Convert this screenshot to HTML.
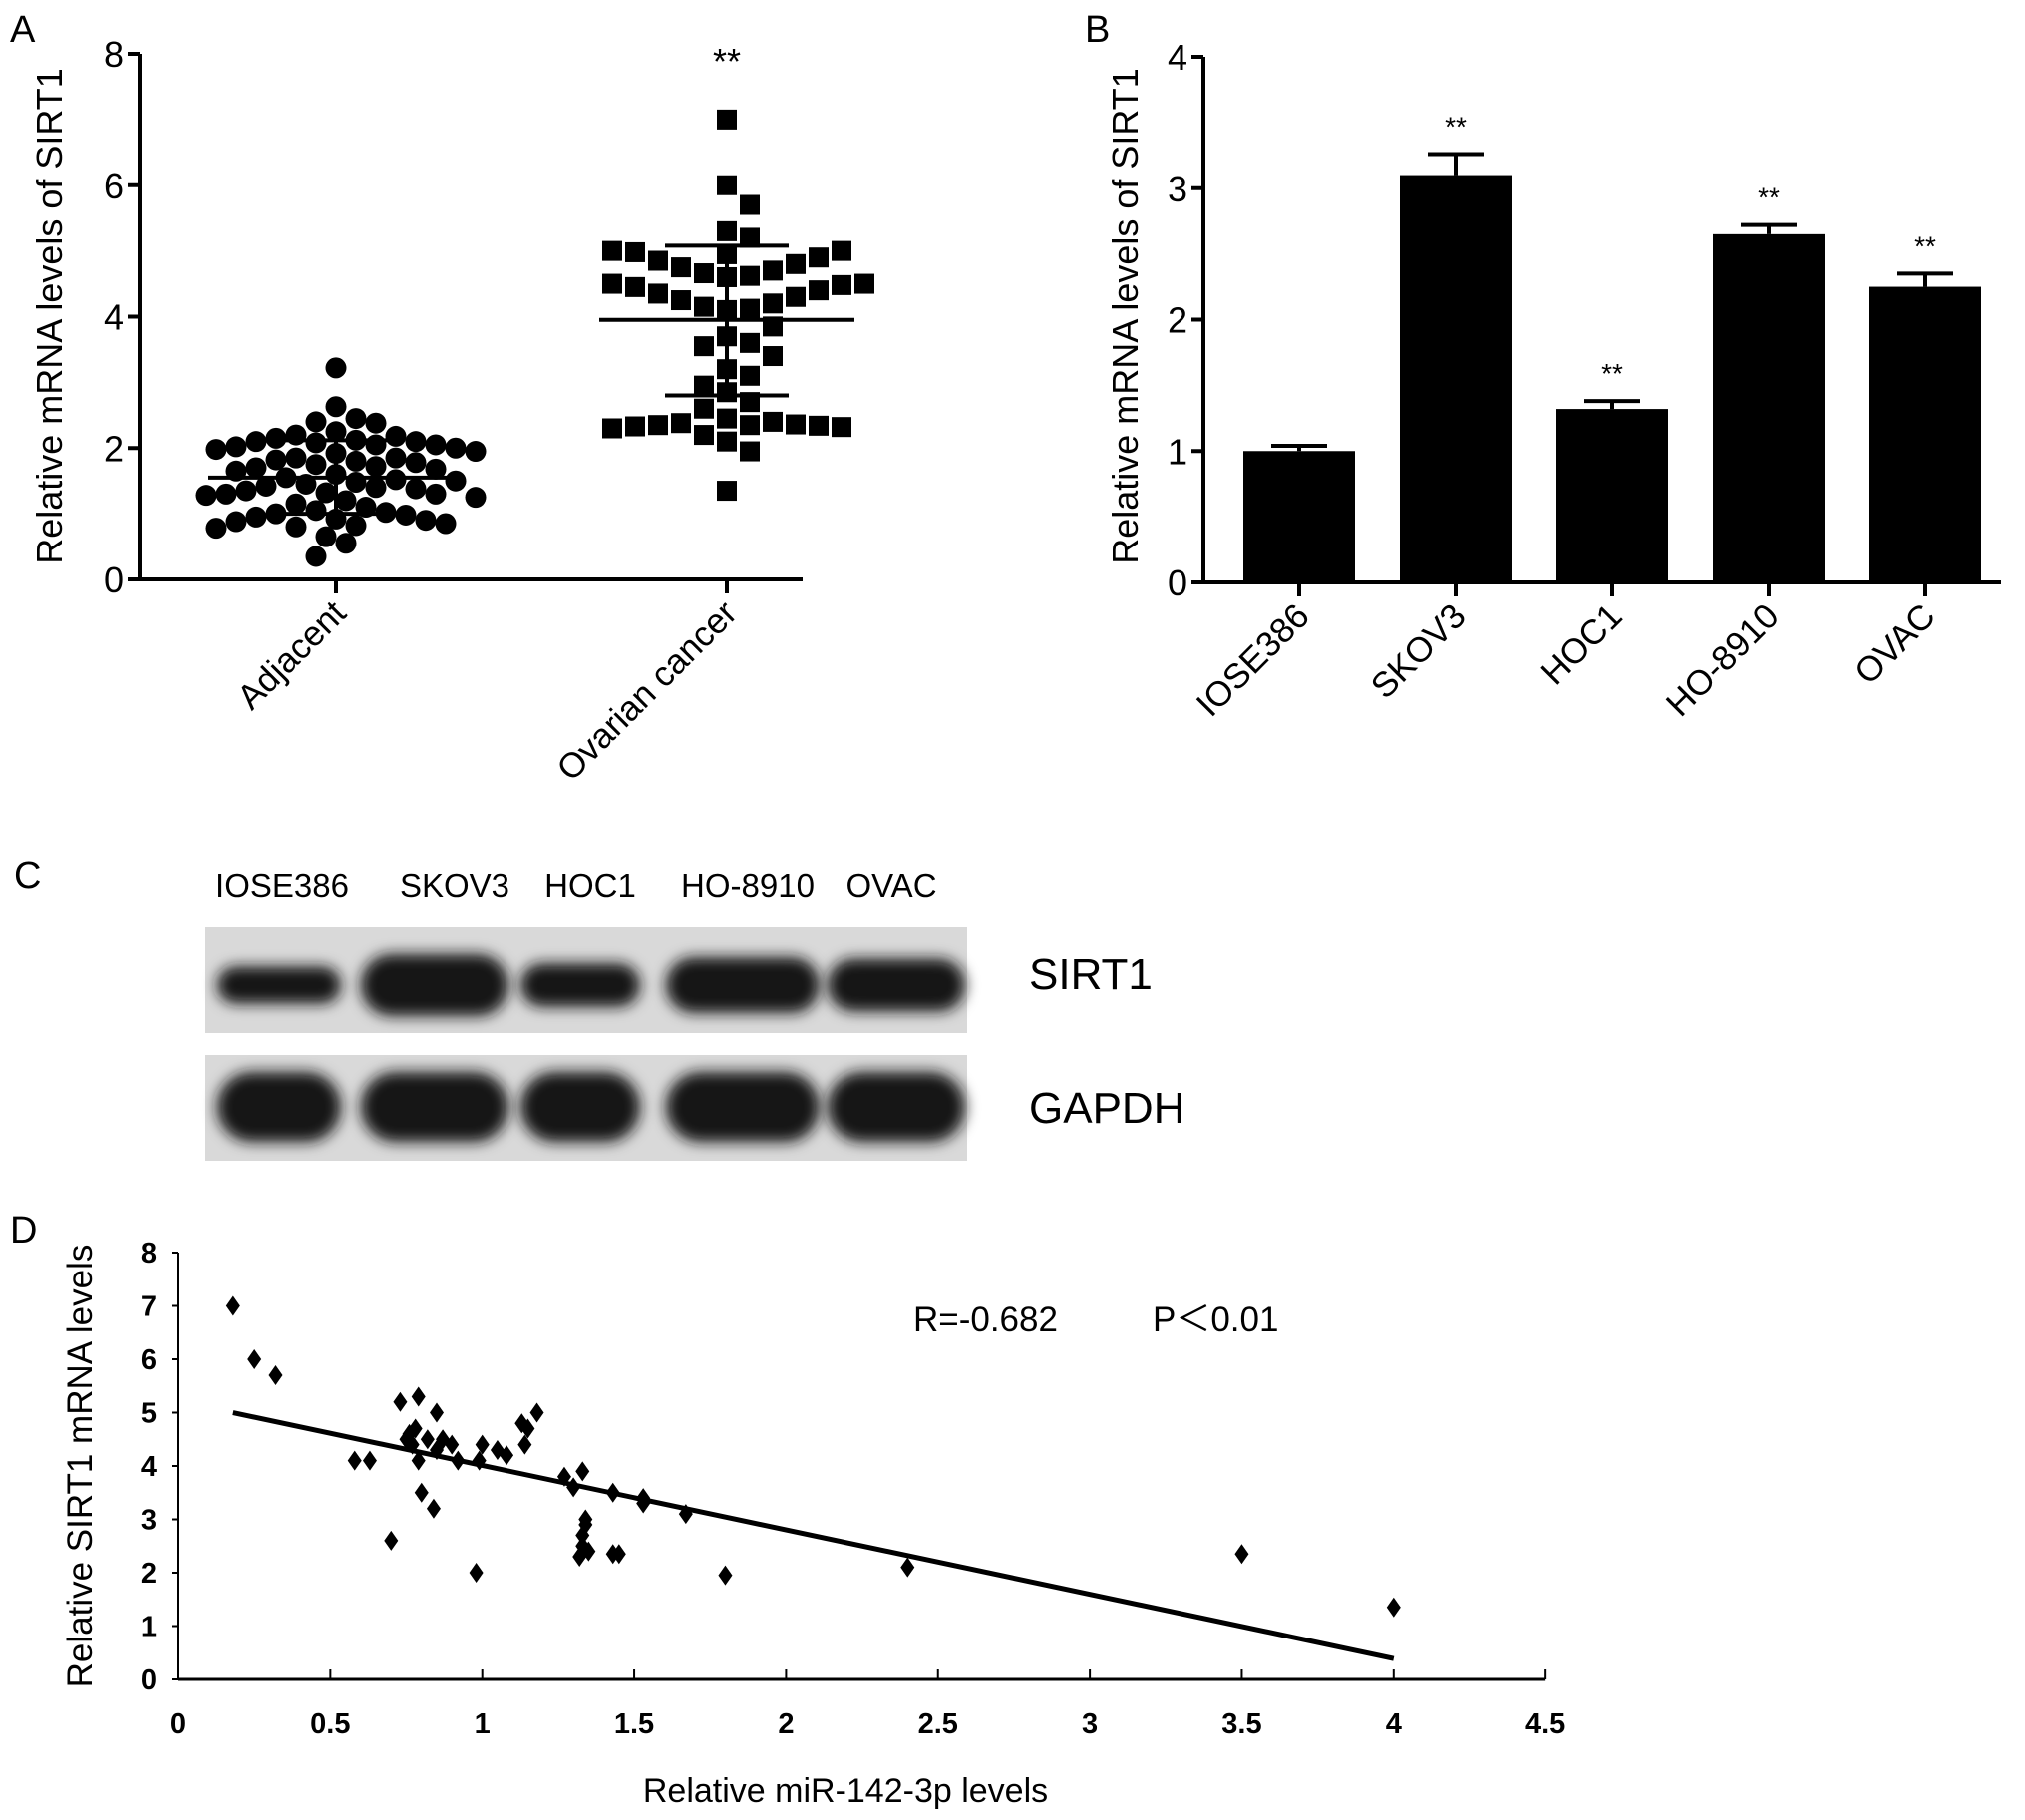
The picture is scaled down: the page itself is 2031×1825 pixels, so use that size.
<!DOCTYPE html>
<html><head><meta charset="utf-8"><style>
html,body{margin:0;padding:0;background:#fff;}
svg{display:block;font-family:"Liberation Sans",Arial,sans-serif;}
</style></head><body>
<svg id="fig" width="2031" height="1825" viewBox="0 0 2031 1825" xmlns="http://www.w3.org/2000/svg">
<defs>
<filter id="blur" x="-20%" y="-50%" width="140%" height="200%"><feGaussianBlur stdDeviation="7"/></filter>
</defs>
<g id="pA"></g>
<g id="pB"></g>
<g id="pC"></g>
<g id="pD"></g>
</svg>
<script>
// ---------- Panel A data ----------
const aCategories = ["Adjacent", "Ovarian cancer"];
const aAdjacent = [3.22,2.63,2.45,2.4,2.38,2.25,2.2,2.18,2.15,2.12,2.1,2.1,2.08,2.05,2.05,2.02,2.0,1.98,1.95,1.92,1.85,1.85,1.82,1.8,1.78,1.75,1.72,1.7,1.68,1.65,1.6,1.55,1.52,1.5,1.48,1.45,1.42,1.4,1.38,1.35,1.32,1.3,1.3,1.28,1.25,1.2,1.15,1.1,1.05,1.02,1.0,0.98,0.95,0.92,0.9,0.88,0.85,0.82,0.8,0.78,0.65,0.55,0.35];
const aCancer = [7.0,6.0,5.7,5.3,5.2,4.6,4.62,4.66,4.7,4.75,4.8,4.85,4.9,4.95,4.98,5.0,5.0,4.1,4.12,4.15,4.2,4.25,4.3,4.35,4.4,4.45,4.48,4.5,4.5,3.85,3.7,3.6,3.55,3.4,3.2,3.1,2.95,2.85,2.7,2.6,2.45,2.4,2.38,2.36,2.35,2.35,2.34,2.33,2.32,2.3,2.2,2.1,1.95,1.35];
const aStats = [{mean:1.55, lo:1.0, hi:2.12},{mean:3.95, lo:2.8, hi:5.08}];
const aTicks = [0,2,4,6,8];
// ---------- Panel B data ----------
const bCategories = ["IOSE386","SKOV3","HOC1","HO-8910","OVAC"];
const bValues = [1.0,3.1,1.32,2.65,2.25];
const bErrors = [0.04,0.16,0.06,0.07,0.1];
const bStars = ["","**","**","**","**"];
const bTicks = [0,1,2,3,4];
// ---------- Panel C data ----------
const cLanes = ["IOSE386","SKOV3","HOC1","HO-8910","OVAC"];
const cSirt1 = [0.6,1.0,0.7,0.9,0.85];
const cGapdh = [1,1,1,1,1];
// ---------- Panel D data ----------
const dX = [0.18,0.25,0.32,0.58,0.63,0.7,0.73,0.75,0.76,0.77,0.78,0.79,0.79,0.8,0.82,0.84,0.85,0.85,0.87,0.9,0.92,0.98,0.99,1.0,1.05,1.08,1.13,1.14,1.15,1.18,1.27,1.3,1.33,1.32,1.33,1.33,1.34,1.34,1.35,1.43,1.45,1.43,1.53,1.53,1.67,1.8,2.4,3.5,4.0];
const dY = [7.0,6.0,5.7,4.1,4.1,2.6,5.2,4.5,4.6,4.4,4.7,5.3,4.1,3.5,4.5,3.2,5.0,4.3,4.5,4.4,4.1,2.0,4.1,4.4,4.3,4.2,4.8,4.4,4.7,5.0,3.8,3.6,3.9,2.3,2.5,2.7,2.9,3.0,2.4,2.35,2.35,3.5,3.4,3.3,3.1,1.95,2.1,2.35,1.35];
const dFit = [0.18,4.0];
const dXTicks = [0,0.5,1,1.5,2,2.5,3,3.5,4,4.5];
const dXTickLabels = ["0","0.5","1","1.5","2","2.5","3","3.5","4","4.5"];
const dYTicks = [0,1,2,3,4,5,6,7,8];

const NS="http://www.w3.org/2000/svg";
function mk(parent,tag,attrs,text){const e=document.createElementNS(NS,tag);for(const k in attrs)e.setAttribute(k,attrs[k]);if(text!==undefined)e.textContent=text;parent.appendChild(e);return e;}

// ================= Panel A =================
(function(){
const g=document.getElementById('pA');
const x0=140,x1=805,yb=581,yt=54,max=8;
const sy=v=>yb-(v/max)*(yb-yt);
const cx=[337,729];
let t=mk(g,'text',{x:10,y:42,'font-size':38},'A');

let l=mk(g,'line',{x1:x0,y1:yt,x2:x0,y2:yb+2,stroke:'#000','stroke-width':4});

l=mk(g,'line',{x1:x0-2,y1:yb,x2:x1,y2:yb,stroke:'#000','stroke-width':4});

aTicks.forEach(v=>{
 const tk=mk(g,'line',{x1:x0-12,y1:sy(v),x2:x0,y2:sy(v),stroke:'#000','stroke-width':4});
 
 const tl=mk(g,'text',{x:x0-16,y:sy(v)+13,'font-size':36,'text-anchor':'end'},String(v));
 
});
t=mk(g,'text',{x:0,y:0,'font-size':36,'text-anchor':'middle',transform:'translate(62,317) rotate(-90)'},'Relative mRNA levels of SIRT1');

aCategories.forEach((c,i)=>{
 const tk=mk(g,'line',{x1:cx[i],y1:yb,x2:cx[i],y2:yb+14,stroke:'#000','stroke-width':4});
 
 const tl=mk(g,'text',{x:0,y:0,'font-size':35,'text-anchor':'end',transform:`translate(${cx[i]+12},${yb+36}) rotate(-45)`},c);
 
});
t=mk(g,'text',{x:cx[1],y:74,'font-size':36,'text-anchor':'middle'},'**');

function swarm(vals,center,d){
 const placed=[];
 vals.forEach(v=>{
  const y=sy(v);
  for(let k=0;k<80;k++){
   const off=(k%2?1:-1)*Math.ceil(k/2)*d*0.5;
   const x=center+off;
   if(placed.every(p=>Math.max(Math.abs(p[0]-x),Math.abs(p[1]-y)*1.0)>=d || Math.hypot(p[0]-x,p[1]-y)>=d*1.15)){placed.push([x,y]);break;}
  }
 });
 return placed;
}
function swarmC(vals,center,d){
 const placed=[];
 vals.forEach(v=>{
  const y=sy(v);
  for(let k=0;k<80;k++){
   const off=(k%2?1:-1)*Math.ceil(k/2)*d*0.5;
   const x=center+off;
   if(placed.every(p=>Math.hypot(p[0]-x,p[1]-y)>=d)){placed.push([x,y]);break;}
  }
 });
 return placed;
}
swarmC(aAdjacent,cx[0],20).forEach(p=>{
 const c=mk(g,'circle',{cx:p[0],cy:p[1],r:10.5,fill:'#000'});
 
});
swarm(aCancer,cx[1],23).forEach(p=>{
 const r=mk(g,'rect',{x:p[0]-10,y:p[1]-10,width:20,height:20,fill:'#000'});
 
});
aStats.forEach((s,i)=>{
 const m=mk(g,'line',{x1:cx[i]-128,y1:sy(s.mean),x2:cx[i]+128,y2:sy(s.mean),stroke:'#000','stroke-width':4});
 
 const v=mk(g,'line',{x1:cx[i],y1:sy(s.lo),x2:cx[i],y2:sy(s.hi),stroke:'#000','stroke-width':4});
 
 [s.lo,s.hi].forEach(val=>{
  const c=mk(g,'line',{x1:cx[i]-62,y1:sy(val),x2:cx[i]+62,y2:sy(val),stroke:'#000','stroke-width':4});
  
 });
});
})();

// ================= Panel B =================
(function(){
const g=document.getElementById('pB');
const x0=1207,x1=2007,yb=584,yt=57,max=4;
const sy=v=>yb-(v/max)*(yb-yt);
const step=157,first=1303,bw=112;
let t=mk(g,'text',{x:1088,y:42,'font-size':38},'B');

bValues.forEach((v,i)=>{
 const c=first+i*step;
 const r=mk(g,'rect',{x:c-bw/2,y:sy(v),width:bw,height:yb-sy(v),fill:'#000'});
 
 const e=mk(g,'line',{x1:c,y1:sy(v),x2:c,y2:sy(v+bErrors[i]),stroke:'#000','stroke-width':4});
 
 const ec=mk(g,'line',{x1:c-28,y1:sy(v+bErrors[i]),x2:c+28,y2:sy(v+bErrors[i]),stroke:'#000','stroke-width':4});
 
 if(bStars[i]){const s=mk(g,'text',{x:c,y:sy(v+bErrors[i])-18,'font-size':28,'text-anchor':'middle'},bStars[i]);
 }
 const tk=mk(g,'line',{x1:c,y1:yb,x2:c,y2:yb+14,stroke:'#000','stroke-width':4});
 
 const tl=mk(g,'text',{x:0,y:0,'font-size':35,'text-anchor':'end',transform:`translate(${c+12},${yb+36}) rotate(-45)`},bCategories[i]);
 
});
let l=mk(g,'line',{x1:x0,y1:yt,x2:x0,y2:yb+2,stroke:'#000','stroke-width':4});

l=mk(g,'line',{x1:x0-2,y1:yb,x2:x1,y2:yb,stroke:'#000','stroke-width':4});

bTicks.forEach(v=>{
 const tk=mk(g,'line',{x1:x0-12,y1:sy(v),x2:x0,y2:sy(v),stroke:'#000','stroke-width':4});
 
 const tl=mk(g,'text',{x:x0-16,y:sy(v)+13,'font-size':36,'text-anchor':'end'},String(v));
 
});
t=mk(g,'text',{x:0,y:0,'font-size':36,'text-anchor':'middle',transform:'translate(1141,317) rotate(-90)'},'Relative mRNA levels of SIRT1');

})();

// ================= Panel C =================
(function(){
const g=document.getElementById('pC');
let t=mk(g,'text',{x:14,y:890,'font-size':38},'C');

const hx=[283,456,592,750,894];
cLanes.forEach((n,i)=>{const h=mk(g,'text',{x:hx[i],y:899,'font-size':33,'text-anchor':'middle'},n);
 });
const bx=[[218,342],[362,510],[522,642],[668,822],[830,968]];
function blot(y,h,vals,name,cy,bh){
 const b=mk(g,'rect',{x:206,y:y,width:764,height:h,fill:'#d9d9d9'});
 
 vals.forEach((v,i)=>{
  const e=mk(g,'rect',{x:bx[i][0],y:cy-bh*v/2,width:bx[i][1]-bx[i][0],height:bh*v,rx:bh*v/2,fill:'#141414',filter:'url(#blur)'});
  
 });
}
blot(930,106,cSirt1,'sirt1',988,62);
blot(1058,106,cGapdh,'gapdh',1110,70);
t=mk(g,'text',{x:1032,y:992,'font-size':44},'SIRT1');

t=mk(g,'text',{x:1032,y:1126,'font-size':44},'GAPDH');

})();

// ================= Panel D =================
(function(){
const g=document.getElementById('pD');
const x0=179,xs=304.7,yb=1684,yu=53.5;
const sx=v=>x0+v*xs, sy=v=>yb-v*yu;
let t=mk(g,'text',{x:10,y:1246,'font-size':38},'D');

let l=mk(g,'line',{x1:x0,y1:sy(8),x2:x0,y2:yb,stroke:'#000','stroke-width':2});

l=mk(g,'line',{x1:x0,y1:yb,x2:sx(4.5),y2:yb,stroke:'#000','stroke-width':3});

const ff='"Liberation Sans Narrow","Liberation Sans",sans-serif';
dYTicks.forEach(v=>{
 const tk=mk(g,'line',{x1:x0-6,y1:sy(v),x2:x0,y2:sy(v),stroke:'#000','stroke-width':2});
 
 const tl=mk(g,'text',{x:x0-22,y:sy(v)+10,'font-size':29,'font-weight':'bold','text-anchor':'end','font-family':ff},String(v));
 
});
dXTicks.forEach((v,i)=>{
 const tk=mk(g,'line',{x1:sx(v),y1:yb,x2:sx(v),y2:yb-10,stroke:'#000','stroke-width':2});
 
 const tl=mk(g,'text',{x:sx(v),y:1738,'font-size':29,'font-weight':'bold','text-anchor':'middle','font-family':ff},dXTickLabels[i]);
 
});
t=mk(g,'text',{x:0,y:0,'font-size':35,'text-anchor':'middle',transform:'translate(92,1470) rotate(-90)'},'Relative SIRT1 mRNA levels');

t=mk(g,'text',{x:848,y:1807,'font-size':34,'text-anchor':'middle','font-family':ff},'Relative miR-142-3p levels');

t=mk(g,'text',{x:916,y:1335,'font-size':35,'font-family':ff},'R=-0.682');

t=mk(g,'text',{x:1156,y:1335,'font-size':35,'font-family':ff},'P＜0.01');

const n=dX.length,mx=dX.reduce((a,b)=>a+b)/n,my=dY.reduce((a,b)=>a+b)/n;
let sxy=0,sxx=0;for(let i=0;i<n;i++){sxy+=(dX[i]-mx)*(dY[i]-my);sxx+=(dX[i]-mx)**2;}
const slope=sxy/sxx,ic=my-slope*mx;
l=mk(g,'line',{x1:sx(dFit[0]),y1:sy(ic+slope*dFit[0]),x2:sx(dFit[1]),y2:sy(ic+slope*dFit[1]),stroke:'#000','stroke-width':5});

dX.forEach((x,i)=>{
 const px=sx(x),py=sy(dY[i]);
 const p=mk(g,'polygon',{points:`${px},${py-10} ${px+7},${py} ${px},${py+10} ${px-7},${py}`,fill:'#000'});
 
});
})();
</script>
</body></html>
